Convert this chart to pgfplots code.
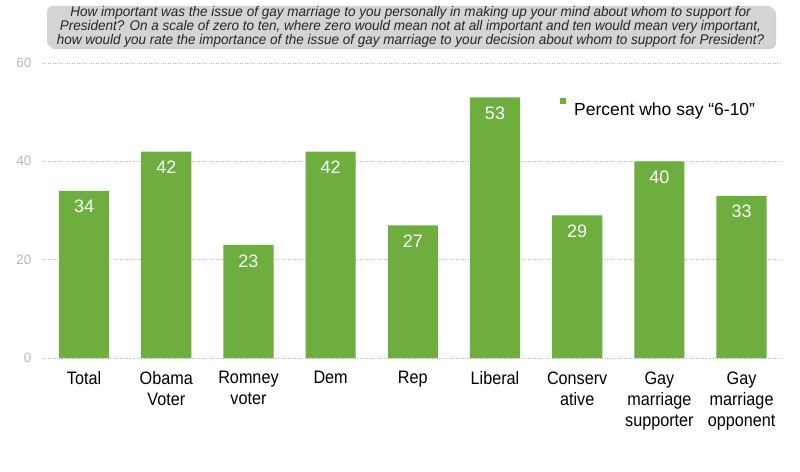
\documentclass[border=0pt]{standalone}
\usepackage{pgfplots}
\pgfplotsset{compat=1.18}
\usepackage{fontspec}
\setmainfont{Liberation Sans}
\newfontfamily\titlefont[FakeStretch=0.965]{Liberation Sans}
\newfontfamily\narrowfont[FakeStretch=0.9]{Liberation Sans}
\definecolor{bargreen}{RGB}{109,174,62}
\definecolor{tickgray}{RGB}{185,185,185}
\definecolor{boxgray}{RGB}{212,212,212}
\begin{document}
\begin{tikzpicture}
\path[fill=white, use as bounding box] (0,0) rectangle (800pt,-471pt);
\fill[black!18, rounded corners=6pt] (49pt,-8pt) rectangle (776pt,-49pt);
\node[fill=boxgray, rounded corners=6pt, minimum width=727pt, minimum height=41pt, inner sep=0pt,
      align=center, text=black!85, font=\titlefont\itshape\fontsize{14}{12.5}\selectfont]
  at (410.5pt,-26.5pt) {How important was the issue of gay marriage to you personally in making up your mind about whom to support for\\
President? On a scale of zero to ten, where zero would mean not at all important and ten would mean very important,\\
how would you rate the importance of the issue of gay marriage to your decision about whom to support for President?};
\begin{axis}[
  at={(43pt,-358pt)}, anchor=south west,
  scale only axis, width=738pt, height=295pt,
  ybar, bar width=0.61,
  xmin=-0.5, xmax=8.48, ymin=0, ymax=60,
  ytick={0,20,40,60},
  xtick={0,...,8},
  xticklabels={Total, Obama\\Voter, Romney\\voter, Dem, Rep, Liberal, Conserv\\ative, Gay\\marriage\\supporter, Gay\\marriage\\opponent},
  xticklabel style={align=center, font=\narrowfont\fontsize{18}{21}\selectfont, text=black, anchor=north, yshift=-10pt},
  yticklabel style={font=\fontsize{13.5}{13.5}\selectfont, text=tickgray, xshift=-8pt},
  /pgf/number format/assume math mode=true,
  axis line style={draw=none},
  major tick length=0pt,
  ymajorgrids, grid style={tickgray, dotted, line width=0.8pt},
  nodes near coords,
  nodes near coords style={text=white, anchor=north, yshift=-6pt, font=\fontsize{18}{18}\selectfont},
  legend style={at={(0.7005,0.881)}, anchor=north west, draw=none, fill=none, inner sep=0pt,
    nodes={inner sep=0pt}, column sep=0pt,
    font=\fontsize{17.5}{17.5}\selectfont},
  legend image code/.code={\fill[bargreen] (0pt,6pt) rectangle (6pt,12pt);},
  legend cell align=left,
]
\addplot[fill=bargreen, draw=none] coordinates {(0,34) (1,42) (2,23) (3,42) (4,27) (5,53) (6,29) (7,40) (8,33)};
\legend{\hspace{8pt}Percent who say “6-10”}
\end{axis}
\end{tikzpicture}
\end{document}
